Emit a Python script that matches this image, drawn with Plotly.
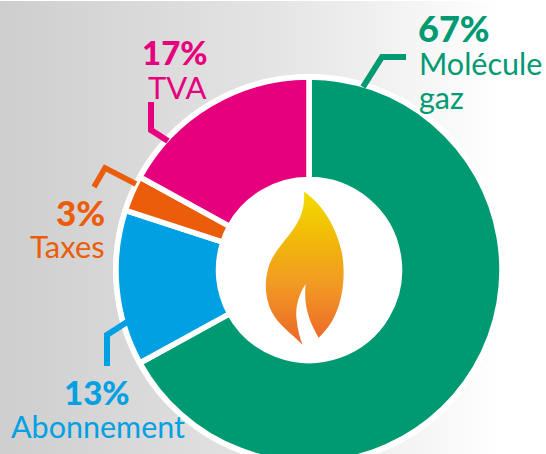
import base64
import plotly.graph_objects as go

categories = ["Molécule gaz", "Abonnement", "Taxes", "TVA"]
values = [67, 13, 3, 17]
colors = ["#009a72", "#00a0e3", "#ec5d0b", "#e6007e"]

W, H = 546, 470
CX, CY, R = 309, 270, 193

def px(x): return x / W
def py(y): return 1 - y / H
def uri(svg): return "data:image/svg+xml;base64," + base64.b64encode(svg.encode()).decode()

bg_svg = f'''<svg xmlns="http://www.w3.org/2000/svg" width="{W}" height="{H}" viewBox="0 0 {W} {H}">
<defs><linearGradient id="g" x1="0" x2="1" y1="0" y2="0">
<stop offset="0" stop-color="#cecece"/><stop offset="0.5" stop-color="#e4e4e4"/>
<stop offset="0.92" stop-color="#ffffff"/><stop offset="1" stop-color="#ffffff"/></linearGradient></defs>
<rect width="{W}" height="{H}" fill="url(#g)"/><rect width="{W}" height="1" fill="#ffffff"/></svg>'''

flame_svg = f'''<svg xmlns="http://www.w3.org/2000/svg" width="{W}" height="{H}" viewBox="0 0 {W} {H}">
<defs><linearGradient id="f" x1="0" x2="0" y1="0" y2="1">
<stop offset="0" stop-color="#f3dc00"/><stop offset="0.3" stop-color="#f1ba08"/>
<stop offset="0.6" stop-color="#f19a24"/><stop offset="1" stop-color="#ec6528"/></linearGradient></defs>
<g transform="translate(220 170) scale(0.33333)">
<path fill="url(#f)" d="M252 65 C305 100 350 170 366 250 C378 320 368 400 335 455 C322 475 310 490 296 503
C268 455 250 410 257 342 C235 375 225 415 230 450 C233 480 240 505 248 525
C215 490 175 465 155 425 C135 385 132 335 146 290 C160 245 195 215 225 170 C245 140 255 105 252 65 Z"/></g></svg>'''

def image(svg, layer):
    return dict(source=uri(svg), xref="paper", yref="paper", x=0, y=1, sizex=1, sizey=1,
                xanchor="left", yanchor="top", sizing="stretch", layer=layer)

def leader(points, color, width):
    d = "M " + " L ".join(f"{px(x):.5f} {py(y):.5f}" for x, y in points)
    return dict(type="path", path=d, xref="paper", yref="paper", layer="above",
                line=dict(color=color, width=width), fillcolor="rgba(0,0,0,0)")

white_disc = dict(type="circle", xref="paper", yref="paper", layer="below",
                  x0=px(CX - 196), x1=px(CX + 196), y0=py(CY + 196), y1=py(CY - 196),
                  fillcolor="#ffffff", line=dict(width=0))

shapes = [
    white_disc,
    leader([(363, 87), (382, 57), (406, 57)], colors[0], 6),
    leader([(168, 141), (151, 130), (151, 102)], colors[3], 6),
    leader([(136, 184), (105, 168), (94, 187)], colors[2], 5.5),
    leader([(127, 322), (107, 335), (107, 366)], colors[1], 6),
]

FONT = "Lato"
def label(text, x, y, color, size, weight, anchor):
    return dict(text=text, xref="paper", yref="paper", x=px(x), y=py(y), xanchor=anchor, yanchor="middle",
                showarrow=False, borderpad=0,
                font=dict(family=FONT, size=size, color=color, weight=weight))

annotations = [
    label("67%", 417, 28, colors[0], 36, 900, "left"),
    label("Molécule", 418, 63, colors[0], 30.5, 400, "left"),
    label("gaz", 418, 97, colors[0], 30.5, 400, "left"),
    label("17%", 209, 52, colors[3], 33, 900, "right"),
    label("TVA", 208, 87, colors[3], 31, 400, "right"),
    label("3%", 106, 212, colors[2], 35, 900, "right"),
    label("Taxes", 106, 246, colors[2], 31, 400, "right"),
    label("13%", 131, 392, colors[1], 33, 900, "right"),
    label("Abonnement", 186, 426, colors[1], 30.5, 400, "right"),
]

fig = go.Figure(go.Pie(
    labels=categories, values=values, hole=90.5 / R, sort=False, direction="clockwise", rotation=0,
    marker=dict(colors=colors, line=dict(color="#ffffff", width=5.5)),
    textinfo="none", hoverinfo="label+percent", showlegend=False,
    domain=dict(x=[px(CX - R), px(CX + R)], y=[py(CY + R), py(CY - R)]),
))
fig.update_layout(
    width=W, height=H, margin=dict(l=0, r=0, t=0, b=0), autosize=False,
    paper_bgcolor="rgba(0,0,0,0)", plot_bgcolor="rgba(0,0,0,0)",
    images=[image(bg_svg, "below"), image(flame_svg, "above")],
    shapes=shapes, annotations=annotations,
)
fig.write_html("out.html", config=dict(displayModeBar=False),
               post_script="document.body.style.margin='0';document.body.style.overflow='hidden';document.documentElement.style.overflow='hidden';")
